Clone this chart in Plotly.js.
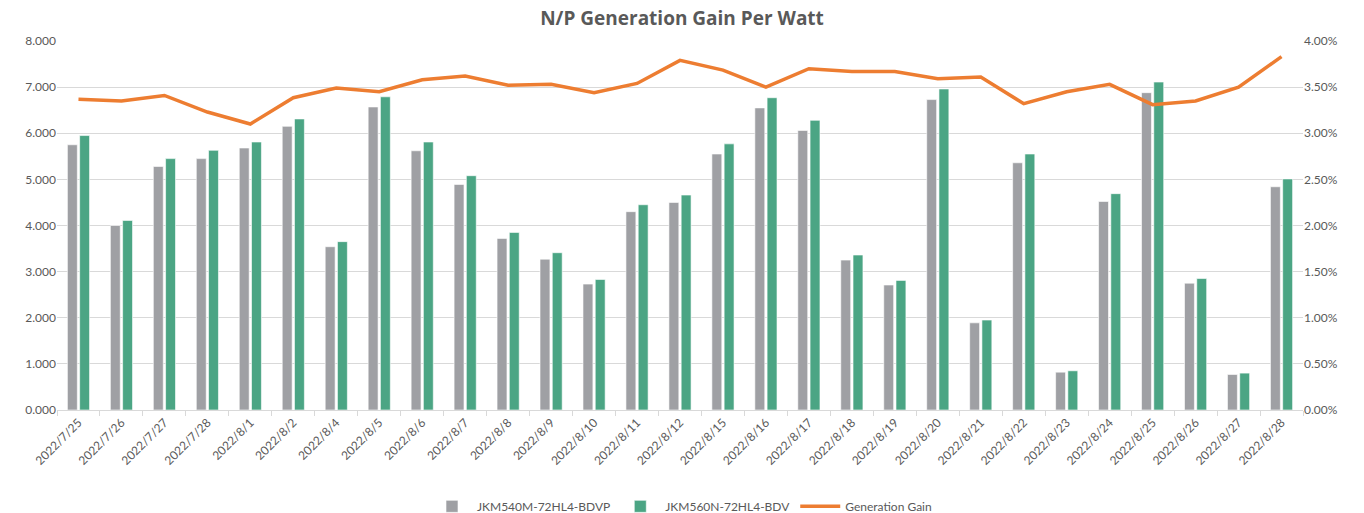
<!DOCTYPE html>
<html>
<head>
<meta charset="utf-8">
<script src="https://cdn.plot.ly/plotly-3.0.1.min.js"></script>
<style>html,body{margin:0;padding:0;background:#fff;}#chart{width:1364px;height:513px;}</style>
</head>
<body>
<div id="chart"></div>
<script>
var dates = ["2022/7/25","2022/7/26","2022/7/27","2022/7/28","2022/8/1","2022/8/2","2022/8/4","2022/8/5","2022/8/6","2022/8/7","2022/8/8","2022/8/9","2022/8/10","2022/8/11","2022/8/12","2022/8/15","2022/8/16","2022/8/17","2022/8/18","2022/8/19","2022/8/20","2022/8/21","2022/8/22","2022/8/23","2022/8/24","2022/8/25","2022/8/26","2022/8/27","2022/8/28"];
var pType = [5.75,4.00,5.28,5.45,5.68,6.15,3.54,6.57,5.62,4.89,3.72,3.27,2.73,4.30,4.50,5.55,6.55,6.06,3.25,2.71,6.73,1.89,5.36,0.82,4.52,6.88,2.75,0.77,4.84];
var nType = [5.95,4.11,5.45,5.63,5.81,6.31,3.65,6.79,5.81,5.08,3.85,3.41,2.83,4.45,4.66,5.77,6.77,6.28,3.36,2.81,6.96,1.95,5.55,0.85,4.69,7.11,2.85,0.80,5.01];
var gain = [0.03368,0.03350,0.03410,0.03230,0.03100,0.03385,0.03490,0.03450,0.03580,0.03620,0.03520,0.03530,0.03440,0.03540,0.03790,0.03685,0.03500,0.03700,0.03670,0.03670,0.03590,0.03610,0.03320,0.03450,0.03530,0.03310,0.03350,0.03500,0.03830];
var seriesNames = ["JKM540M-72HL4-BDVP","JKM560N-72HL4-BDV","Generation Gain"];

var txt = "#595959";
var traces = [
  {type:"bar", name:seriesNames[0], x:dates, y:pType, marker:{color:"#9FA0A4", line:{color:"#ffffff", width:0.6}}, yaxis:"y"},
  {type:"bar", name:seriesNames[1], x:dates, y:nType, marker:{color:"#4BA584", line:{color:"#ffffff", width:0.6}}, yaxis:"y"},
  {type:"scatter", mode:"lines", name:seriesNames[2], x:dates, y:gain, yaxis:"y2", line:{color:"#ED7D31", width:3.5}}
];
var layout = {
  width:1364, height:513,
  margin:{l:57, r:61, t:41, b:103, autoexpand:false},
  paper_bgcolor:"#ffffff", plot_bgcolor:"#ffffff",
  font:{family:"Lato, 'Open Sans', sans-serif", size:12, color:txt},
  title:{text:"<b>N/P Generation Gain Per Watt</b>", x:0.5, xanchor:"center", y:0.965, yanchor:"middle", font:{family:"'Open Sans', sans-serif", size:19, color:txt}},
  barmode:"group", bargap:0.43, bargroupgap:0.19,
  showlegend:true,
  legend:{orientation:"h", x:0.5, xanchor:"center", xref:"container", yref:"container", y:0.013, yanchor:"middle", font:{size:12, color:txt}, traceorder:"normal", itemwidth:40},
  xaxis:{type:"category", automargin:false, tickangle:-45, tickson:"boundaries", ticks:"outside", ticklen:5, tickcolor:"#d9d9d9", showline:true, linecolor:"#d9d9d9", linewidth:1, showgrid:false, tickfont:{size:12, color:txt}, fixedrange:true},
  yaxis:{range:[0,8], automargin:false, dtick:1, tickformat:".3f", showgrid:true, gridcolor:"#d9d9d9", gridwidth:1, zeroline:false, showline:false, tickfont:{size:12, color:txt}, ticks:"", fixedrange:true},
  yaxis2:{range:[0,0.04], automargin:false, dtick:0.005, tickformat:".2%", overlaying:"y", side:"right", showgrid:false, zeroline:false, showline:false, tickfont:{size:12, color:txt}, fixedrange:true}
};
Plotly.newPlot("chart", traces, layout, {displayModeBar:false, staticPlot:true});
</script>
</body>
</html>
